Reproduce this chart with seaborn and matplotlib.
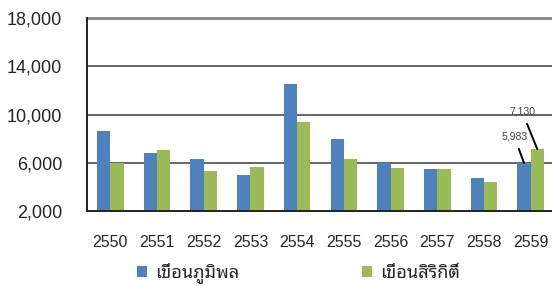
import matplotlib
matplotlib.use("Agg")
import matplotlib.pyplot as plt
from matplotlib.patches import Patch
from matplotlib.ticker import FuncFormatter, FixedLocator
import seaborn as sns
import pandas as pd

years = ["2550", "2551", "2552", "2553", "2554", "2555", "2556", "2557", "2558", "2559"]
bhumibol = [8620, 6780, 6280, 4980, 12520, 7990, 5950, 5450, 4700, 5983]
sirikit = [6000, 7050, 5340, 5670, 9370, 6310, 5590, 5500, 4380, 7130]
series_names = ["เขื่อนภูมิพล", "เขื่อนสิริกิติ์"]
colors = ["#4F81BD", "#9BBB59"]
yticks = [2000, 6000, 10000, 14000, 18000]
annot_labels = ["5,983", "7,130"]

thai_font = ["Noto Sans Thai Looped", "DejaVu Sans"]
num_font = ["Liberation Sans", "DejaVu Sans"]

df = pd.DataFrame({
    "year": years * 2,
    "dam": [series_names[0]] * len(years) + [series_names[1]] * len(years),
    "value": bhumibol + sirikit,
})

sns.set_style("white")
fig = plt.figure(figsize=(5.52, 2.86), dpi=100)
ax = fig.add_axes([87 / 552, 75 / 286, 467 / 552, 193 / 286])

width = 0.57
sns.barplot(data=df, x="year", y="value", hue="dam", hue_order=series_names,
            order=years, palette=colors, width=width, saturation=1,
            linewidth=0, ax=ax, legend=False, zorder=3)

ax.set_ylim(yticks[0], yticks[-1])
ax.set_xlim(-0.5, len(years) - 0.5)
ax.set_yticks(yticks)
ax.yaxis.set_major_formatter(FuncFormatter(lambda v, p: f"{int(v):,}"))
for y in yticks[1:-1]:
    ax.axhline(y, color="#5a5a5a", lw=1.3, zorder=1)
ax.axhline(yticks[-1], color="#8c8c8c", lw=2.2, zorder=1, clip_on=False)

for s in ["top", "right"]:
    ax.spines[s].set_visible(False)
ax.spines["left"].set_color("#222222")
ax.spines["left"].set_linewidth(1.4)
ax.spines["bottom"].set_color("#222222")
ax.spines["bottom"].set_linewidth(1.4)
ax.spines["left"].set_zorder(5)
ax.spines["bottom"].set_zorder(5)

ax.tick_params(axis="y", which="major", direction="out", length=6, width=1.3,
               color="#222222", pad=12, labelsize=13, labelcolor="#262626")
ax.tick_params(axis="x", which="major", length=0, pad=17, labelsize=11.5,
               labelcolor="#262626")
ax.xaxis.set_minor_locator(FixedLocator([i + 0.5 for i in range(len(years) - 1)]))
ax.tick_params(axis="x", which="minor", direction="out", length=6, width=1.2,
               color="#222222")
for lab in ax.get_xticklabels() + ax.get_yticklabels():
    lab.set_family(num_font)
ax.set_xlabel("")
ax.set_ylabel("")

# annotations for last year
last = len(years) - 1
offs = [(-7, 19), (-11, 27)]
vals = [bhumibol[last], sirikit[last]]
for k in range(2):
    xb = last + (k - 0.5) * width / 2
    ax.annotate(annot_labels[k], xy=(xb, vals[k]), xytext=offs[k],
                textcoords="offset points", ha="center", va="center",
                fontsize=7.5, color="#404040", family=num_font,
                arrowprops=dict(arrowstyle="-", color="black", lw=1.4,
                                shrinkA=3, shrinkB=0), zorder=6)

# legend
for k in range(2):
    h = [Patch(facecolor=colors[k], edgecolor="none")]
    xs = [137, 362][k]
    fig.legend(h, [series_names[k]], loc="center left",
               bbox_to_anchor=(xs / 552, 1 - 273 / 286), frameon=False,
               borderpad=0, borderaxespad=0, handlelength=0.58, handleheight=0.58,
               handletextpad=0.45, prop={"family": thai_font, "size": 13})

fig.savefig("out.png", dpi=100)
